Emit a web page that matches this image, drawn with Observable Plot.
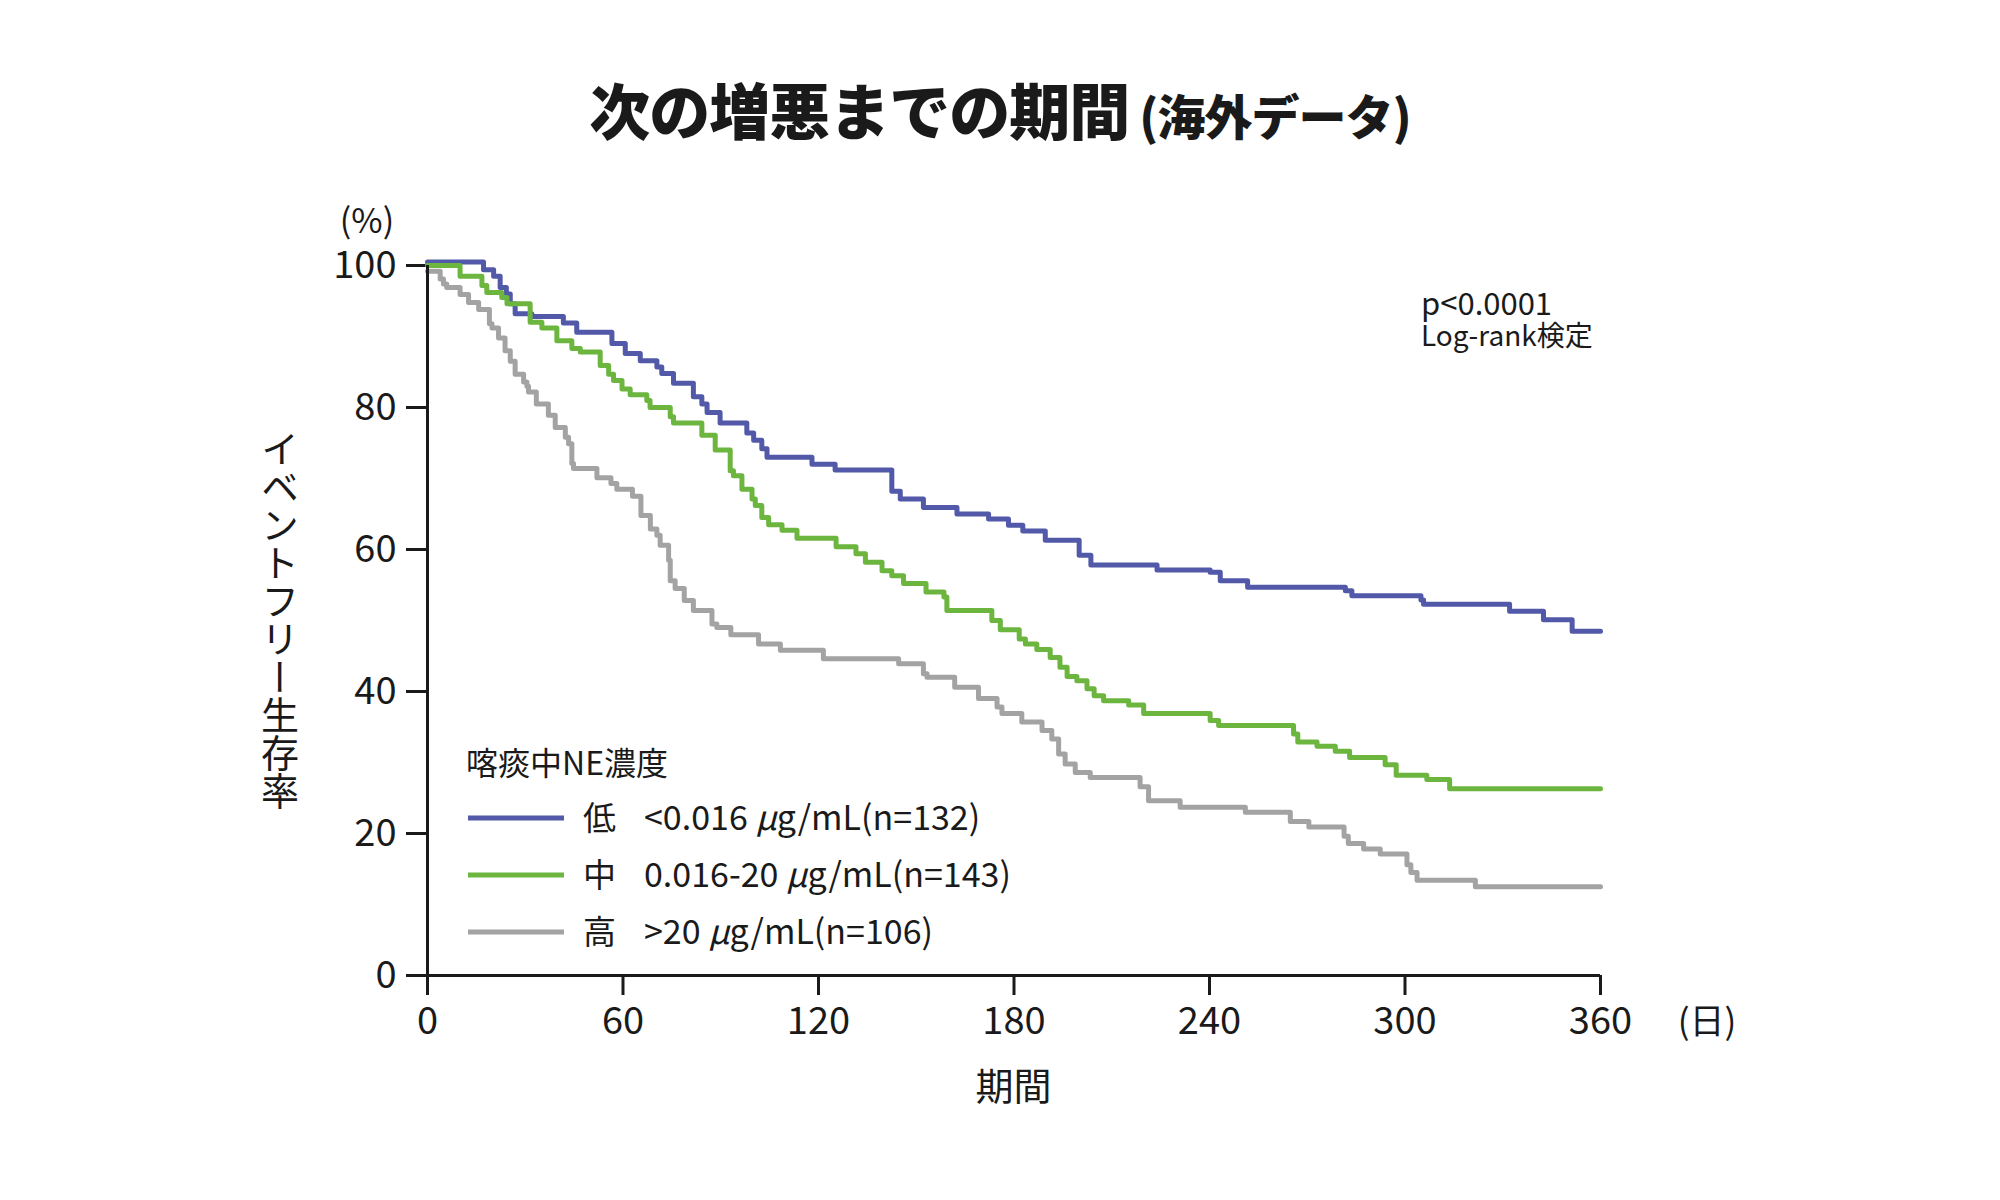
<!DOCTYPE html>
<html><head><meta charset="utf-8">
<script src="https://cdn.jsdelivr.net/npm/d3@7"></script>
<script src="https://cdn.jsdelivr.net/npm/@observablehq/plot@0.6"></script>
<style>
body{margin:0;background:#fff;font-family:"Noto Sans CJK JP",sans-serif;}
#title{height:180px;position:relative;width:2000px;}
#title div{position:absolute;left:0;width:2000px;top:79px;text-align:center;font-weight:900;font-size:61px;line-height:60px;color:#1a1a1a;letter-spacing:-1px;}
#title span{font-size:48px;}
</style></head><body>
<div id="title"><div>次の増悪までの期間<span> (海外データ)</span></div></div>
<div id="chart"></div>
<script>
// Series: days at which the survival step starts, and event-free survival (%)
const lowDays = [0,17.2,20.3,22.3,24.2,25.4,26.9,32,41.7,45.8,56.6,60.7,65.3,70.4,71.9,75.5,81.6,84.2,85.8,89.8,98,100.1,102.6,104.2,118,125.1,142.5,145.1,152.2,162.5,172.2,178.3,182.7,189.6,200,203.6,223.9,240.2,243.3,251.7,281.7,283.7,304.9,305.7,332.1,342.5,351.3,360];
const lowSurv = [100.5,99.4,98.5,96.9,96.0,94.6,93.2,92.8,91.9,90.6,89.0,87.6,86.6,85.7,84.8,83.4,81.5,80.5,79.3,77.8,76.4,75.4,74.2,73.0,72.0,71.2,68.2,67.1,65.9,65.0,64.3,63.4,62.6,61.3,59.2,57.8,57.1,56.8,55.6,54.7,54.2,53.5,52.9,52.3,51.3,50.1,48.5,48.5];

const midDays = [0,10,16.7,18.2,22.8,24.4,31.5,35.1,39.7,44.3,46.9,53,55.6,57.1,59.7,62.2,67.3,68.3,74.5,75.5,84.2,88.3,92.9,93.9,96.5,99.6,100.6,102.6,104.7,108.8,113.4,125.4,131.5,134.4,139.5,142.5,146.1,153,158.5,159.4,173.2,175.8,181.6,183.5,187,191.1,194.1,196.3,199.3,202.4,204.6,207.5,215.2,219.8,240.2,242.8,265.8,267.1,273,278.6,283,293.9,297.3,306.7,313.7,360];
const midSurv = [100,98.5,97.2,96.2,95.5,94.6,92.0,91.2,89.4,88.3,87.8,85.9,84.7,83.8,82.6,81.8,81.0,80.0,78.7,77.8,76.1,74.0,71.1,70.4,68.5,67.1,66.2,64.5,63.5,62.7,61.6,60.4,59.4,58.2,57.0,56.3,55.2,54.0,53.3,51.4,50.0,48.7,47.4,46.7,45.9,44.8,43.4,42.1,41.5,40.4,39.4,38.7,38.1,36.9,35.9,35.2,34.0,32.9,32.3,31.6,30.7,29.7,28.2,27.6,26.3,26.3];

const highDays = [0,3.9,4.9,5.9,10,12.6,15.7,19.0,19.8,21.8,23.8,25.4,26.9,29.5,30.5,31.0,33.4,37.1,39.2,42.3,43.3,44.3,44.8,52.0,56.3,58.1,62.9,65.5,68.4,70.4,71.4,74,74.5,76,78.8,81.6,87.3,88.8,93.1,101.6,108.3,121.5,144.6,152.2,153.3,161.8,169.1,174.8,176.3,182.4,188.6,191.6,193.7,195.7,198.8,203.4,218.7,221.3,231,251,264.8,270.5,281.3,282.6,287.3,292.4,300.6,301.8,303.7,321.6,360];
const highSurv = [99.2,98.1,97.4,96.9,95.9,94.8,93.8,91.8,91.2,89.8,88.0,86.5,84.7,83.6,83.0,82.2,80.5,78.9,77.2,75.8,74.9,72.1,71.4,70.1,69.3,68.5,67.5,64.8,62.9,62.0,60.6,58.5,55.6,54.5,52.8,51.4,49.5,49.0,48.0,46.7,45.8,44.6,43.9,42.5,42.0,40.6,39.0,37.8,36.9,35.7,34.5,33.3,31.2,29.8,28.6,27.9,26.6,24.6,23.7,23.0,21.7,20.9,19.6,18.6,17.8,17.1,15.6,14.5,13.4,12.5,12.5];

const groups = ["低","中","高"];
const groupColors = ["#5159a8","#6cb53f","#a3a3a3"];
const legendRanges = ["<0.016","0.016-20",">20"];
const legendN = [132,143,106];
const xTicks = [0,60,120,180,240,300,360];
const yTicks = [0,20,40,60,80,100];

const series = [[lowDays,lowSurv],[midDays,midSurv],[highDays,highSurv]];
const rows = [];
series.forEach(([d,s],i) => d.forEach((day,j) => rows.push({group: groups[i], day, surv: s[j]})));

const FONT = '"Noto Sans CJK JP", sans-serif';
const INK = "#1a1a1a";

function extras(index, scales, values, dim) {
  const g = d3.create("svg:g").attr("font-family", FONT).attr("fill", INK).attr("text-anchor","start");
  const left = dim.marginLeft, top = dim.marginTop, bottom = dim.height - dim.marginBottom, right = dim.width - dim.marginRight;
  // (%) unit
  g.append("text").attr("x", left - 60).attr("y", top - 44).attr("text-anchor","middle").attr("dy","0.35em").attr("font-size",34).text("(%)");
  // (日) unit
  g.append("text").attr("x", right + 107).attr("y", bottom + 47).attr("text-anchor","middle").attr("dy","0.35em").attr("font-size",35).text("(日)");
  // x label
  g.append("text").attr("x", (left+right)/2).attr("y", bottom + 112).attr("text-anchor","middle").attr("dy","0.35em").attr("font-size",38).text("期間");
  // y label vertical
  g.append("text").attr("x", left - 147).attr("y", (top+bottom)/2).attr("text-anchor","middle")
    .attr("writing-mode","vertical-rl").style("text-orientation","upright").attr("font-size",38).text("イベントフリー生存率");
  // annotation
  g.append("text").attr("x", right - 179).attr("y", top + 39).attr("dy","0.35em").attr("font-size",31).text("p<0.0001");
  g.append("text").attr("x", right - 179).attr("y", top + 71).attr("dy","0.35em").attr("font-size",28).text("Log-rank検定");
  // legend
  const lx = left + 41;
  g.append("text").attr("x", lx - 2).attr("y", bottom - 211).attr("dy","0.35em").attr("font-size",32).text("喀痰中NE濃度");
  groups.forEach((grp,i) => {
    const y = bottom - 157 + i*57;
    g.append("line").attr("x1", lx).attr("x2", lx+96).attr("y1", y).attr("y2", y).attr("stroke", groupColors[i]).attr("stroke-width", 5);
    g.append("text").attr("x", lx+115).attr("y", y).attr("dy","0.35em").attr("font-size",33).text(grp);
    const t = g.append("text").attr("x", lx+176).attr("y", y).attr("dy","0.35em").attr("font-size",34);
    t.append("tspan").text(legendRanges[i] + " ");
    t.append("tspan").attr("font-style","italic").text("μ");
    t.append("tspan").text("g/mL(n=" + legendN[i] + ")");
  });
  return g.node();
}

const chart = Plot.plot({
  width: 2000,
  height: 1020,
  marginLeft: 427,
  marginRight: 400,
  marginTop: 85,
  marginBottom: 225,
  style: {fontFamily: FONT, fontSize: "38px", color: INK, background: "#fff"},
  x: {domain: [0,360]},
  y: {domain: [0,100]},
  color: {domain: groups, range: groupColors},
  marks: [
    Plot.axisX({ticks: xTicks, tickSize: 20, tickPadding: 12, strokeWidth: 3, label: null, fontSize: 38}),
    Plot.axisY({ticks: yTicks, tickSize: 21, tickPadding: 10, strokeWidth: 3, label: null, fontSize: 38}),
    Plot.line(rows, {x: "day", y: "surv", z: "group", stroke: "group", curve: "step-after", strokeWidth: 5}),
    Plot.ruleY([0], {stroke: INK, strokeWidth: 3}),
    Plot.ruleX([0], {stroke: INK, strokeWidth: 3}),
    extras
  ]
});
document.getElementById("chart").append(chart);
</script>
</body></html>
